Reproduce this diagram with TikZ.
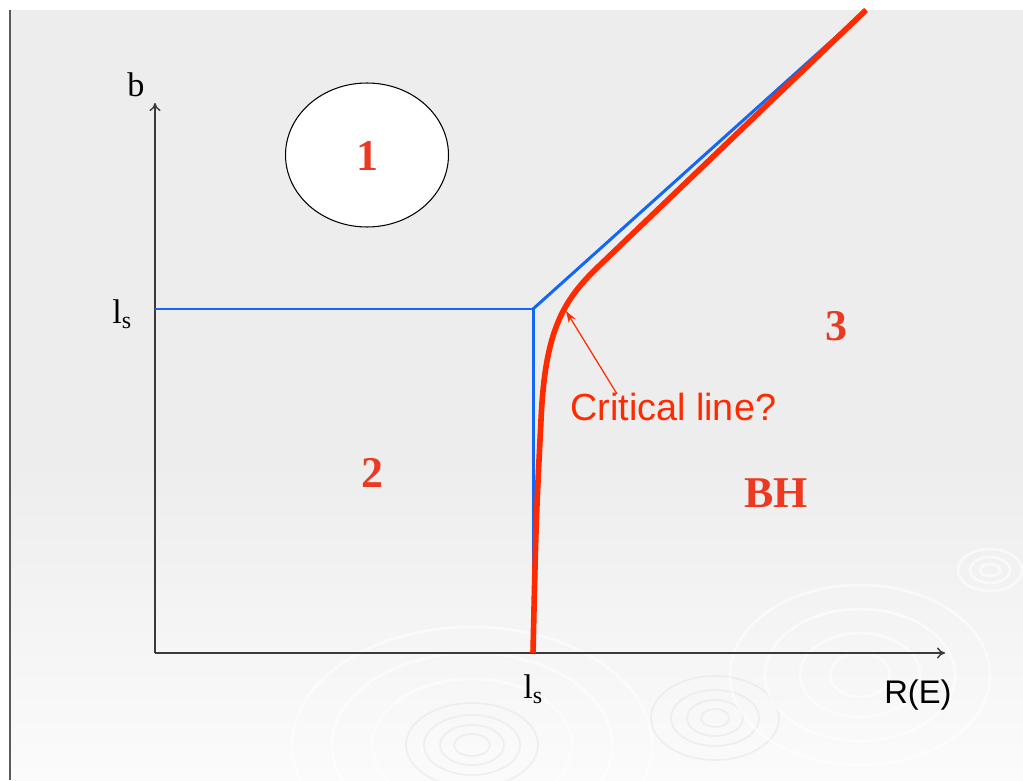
\documentclass[tikz,border=0pt]{standalone}
\usepackage{fontspec}
\setmainfont{Liberation Serif}
\newfontfamily\handfont{Liberation Sans}
\usetikzlibrary{arrows.meta,shapes.geometric}
\definecolor{red600} {HTML}{FF2A00}
\definecolor{red500} {HTML}{EC3A22}
\definecolor{blue500}{HTML}{1466F5}
\definecolor{grey800}{HTML}{3A3A3A}
\definecolor{grey600}{HTML}{5A5A5A}
\definecolor{grey200}{HTML}{DCDCDC}
\definecolor{grey100}{HTML}{EDEDED}
\definecolor{grey50} {HTML}{FBFBFB}
\tikzset{
  axis/.style   ={draw=grey800, line width=0.8pt,
                  -{To[length=1.6mm,width=2.2mm]}},
  bound/.style  ={draw=blue500, line width=1.7pt, line join=miter},
  crit/.style   ={draw=red600, line width=3.2pt},
  pointer/.style={draw=red600, line width=0.7pt,
                  -{Stealth[length=2.4mm,width=1.6mm]}},
  region/.style ={font=\fontsize{25}{30}\selectfont\bfseries, text=red500,
                  inner sep=0pt},
  axlabel/.style={font=\fontsize{19.5}{22}\selectfont, inner sep=0pt},
  hand/.style   ={font=\handfont\fontsize{18.6}{22}\selectfont, inner sep=0pt},
  blob/.style   ={draw=black, line width=0.6pt, fill=white, ellipse,
                  minimum width=3.26cm, minimum height=2.88cm, inner sep=0pt},
  ring/.style   ={draw=grey200, line width=1pt, opacity=0.35},
  ringw/.style  ={draw=white, line width=1.6pt, opacity=0.55}
}

\begin{document}
\begin{tikzpicture}[x=0.02cm, y=-0.02cm]
\useasboundingbox (0,0) rectangle (1023,780);

% slide background
\fill[white] (0,0) rectangle (1023,780);
\fill[grey100] (10,10) rectangle (1023,460);
\shade[top color=grey100, bottom color=grey50] (10,459) rectangle (1023,780);
\begin{scope}
\clip (10,10) rectangle (1023,780);
\foreach \r/\s in {18/11, 32/20, 48/30, 66/42}
  \draw[ring] (472,745) ellipse[x radius=\r, y radius=\s];
\foreach \r/\s in {100/66, 140/92, 180/118}
  \draw[ringw] (472,745) ellipse[x radius=\r, y radius=\s];
\foreach \r/\s in {14/9, 28/18, 44/28, 64/42}
  \draw[ring] (715,718) ellipse[x radius=\r, y radius=\s];
\foreach \r/\s in {30/22, 60/42, 95/66, 130/90}
  \draw[ringw] (860,675) ellipse[x radius=\r, y radius=\s];
\foreach \r/\s in {10/6, 20/13, 32/21}
  \draw[ringw] (990,570) ellipse[x radius=\r, y radius=\s];
\end{scope}
\draw[grey600, line width=1.2pt] (10,10) -- (10,780);

% axes
\coordinate (O) at (155,653);
\coordinate (ytip) at (155,103);
\coordinate (xtip) at (945,653);
\draw[axis] (O) -- (ytip);
\draw[axis] (O) -- (xtip);
\node[axlabel, anchor=base] (blab) at (136,97) {b};
\node[axlabel, anchor=base west] (lsy) at (112,323) {l\textsubscript{s}};
\node[axlabel, anchor=base west] (lsx) at (523,698) {l\textsubscript{s}};
\node[hand, anchor=base west] (rlab) at (884,703) {R(E)};

% phase boundaries
\coordinate (ly) at (155,309);
\coordinate (corner) at (533,309);
\coordinate (lx) at (533,653);
\coordinate (far) at (866,10);
\draw[bound] (ly) -- (corner) -- (lx);
\draw[bound] (corner) -- (far);

\coordinate (c0) at (533,653);
\coordinate (c1) at (541,420);
\coordinate (c2) at (600,265);
\draw[crit] (c0) .. controls (536,520) .. (c1)
  .. controls (545,330) and (563,300) .. (c2) -- (far);

% regions
\node[blob] (oval) at (367,155) {};
\node[region] (r1) at (367,156) {1};
\node[region] (r2) at (372,473) {2};
\node[region] (r3) at (836,326) {3};
\node[region] (bh) at (776,493) {BH};

% critical line label
\node[hand, text=red600, font=\handfont\fontsize{21.5}{24}\selectfont,
      anchor=base west] (clab) at (570,420) {Critical line?};
\coordinate (ptail) at (617,394);
\coordinate (phead) at (566,311);
\draw[pointer] (ptail) -- (phead);
\end{tikzpicture}
\end{document}
